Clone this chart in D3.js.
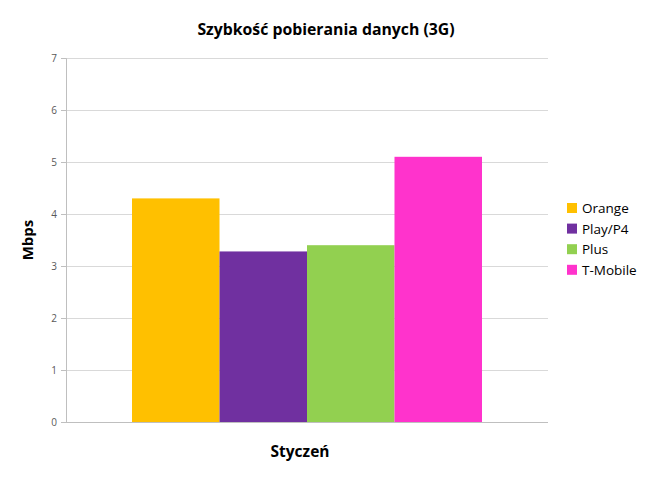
<!DOCTYPE html>
<html><head><meta charset="utf-8">
<script src="https://cdn.jsdelivr.net/npm/d3@7"></script>
<style>body{margin:0;background:#fff;} svg{display:block;font-family:"Open Sans",sans-serif;}</style>
</head><body>
<svg id="c" width="655" height="480"></svg>
<script>
const categories = ["Styczeń"];
const series = ["Orange", "Play/P4", "Plus", "T-Mobile"];
const values = [4.30, 3.28, 3.40, 5.10];
const colors = ["#FFC000", "#7030A0", "#92D050", "#FF33CC"];
const yTicks = [0, 1, 2, 3, 4, 5, 6, 7];

const svg = d3.select("#c");
const m = {l: 66, r: 548, t: 58, b: 422};
const y = d3.scaleLinear().domain([0, 7]).range([m.b, m.t]);
const x0 = d3.scaleBand().domain(categories).range([m.l, m.r]).paddingInner(0).paddingOuter(0.1886);
const x1 = d3.scaleBand().domain(series).range([0, x0.bandwidth()]);

// gridlines
svg.append("g").selectAll("line").data(yTicks.filter(d => d > 0)).join("line")
  .attr("x1", m.l).attr("x2", m.r).attr("y1", d => y(d)).attr("y2", d => y(d))
  .attr("stroke", "#d9d9d9").attr("stroke-width", 1).attr("shape-rendering", "crispEdges");

// y axis
const ya = svg.append("g").attr("transform", `translate(${m.l},0)`)
  .call(d3.axisLeft(y).tickValues(yTicks).tickFormat(d3.format("d")).tickSize(5).tickPadding(4));
ya.select(".domain").attr("stroke", "#bfbfbf");
ya.selectAll(".tick line").attr("stroke", "#bfbfbf");
ya.selectAll(".tick text").attr("fill", "#595959").style("font-size", "10px").style("font-family", "Open Sans");

// bars
const g = svg.append("g");
categories.forEach((c, ci) => {
  g.selectAll(null).data(series).join("rect")
    .attr("x", (s) => x0(c) + x1(s))
    .attr("width", x1.bandwidth())
    .attr("y", (s, i) => y(values[i]))
    .attr("height", (s, i) => y(0) - y(values[i]))
    .attr("fill", (s, i) => colors[i]);
});

// bottom axis
svg.append("line").attr("x1", m.l).attr("x2", m.r).attr("y1", y(0)).attr("y2", y(0))
  .attr("stroke", "#bfbfbf").attr("shape-rendering", "crispEdges");

// title
svg.append("text").attr("x", 326).attr("y", 35).attr("text-anchor", "middle")
  .style("font-weight", "bold").style("font-size", "15.8px").attr("fill", "#000")
  .text("Szybkość pobierania danych (3G)");

// x label
svg.append("text").attr("x", 300).attr("y", 457).attr("text-anchor", "middle")
  .style("font-weight", "bold").style("font-size", "15.5px").text(categories[0]);

// y label
svg.append("text").attr("transform", "translate(33,240) rotate(-90)").attr("text-anchor", "middle")
  .style("font-weight", "bold").style("font-size", "15px").text("Mbps");

// legend
const lg = svg.append("g").attr("transform", "translate(567,208)");
series.forEach((s, i) => {
  const row = lg.append("g").attr("transform", `translate(0,${i * 20.6})`);
  row.append("rect").attr("x", 0).attr("y", -5).attr("width", 10).attr("height", 10).attr("fill", colors[i]);
  row.append("text").attr("x", 15).attr("y", 5).style("font-size", "13.5px").attr("fill", "#000").text(s);
});
</script>
</body></html>
